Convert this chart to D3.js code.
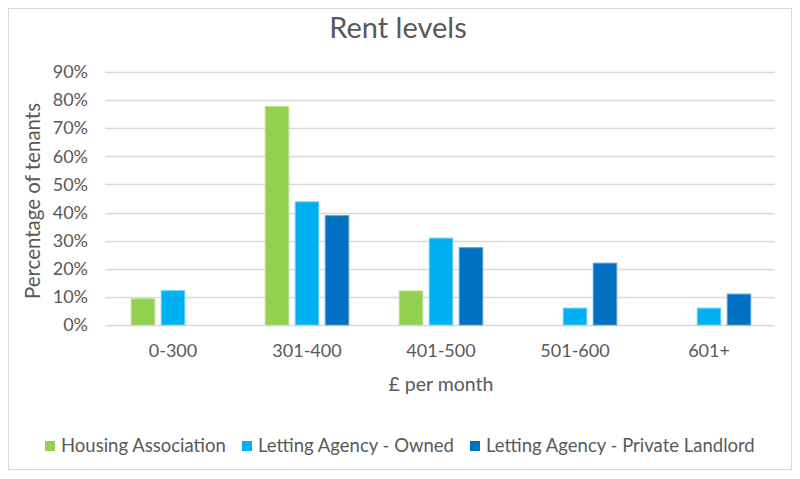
<!DOCTYPE html>
<html><head><meta charset="utf-8">
<script src="https://cdn.jsdelivr.net/npm/d3@7"></script>
<style>body{margin:0;background:#fff;}svg{display:block;font-family:Lato,"Open Sans",sans-serif;}</style>
</head><body><svg id="c" width="800" height="479"></svg>
<script>
const categories = ["0-300","301-400","401-500","501-600","601+"];
const seriesNames = ["Housing Association","Letting Agency - Owned","Letting Agency - Private Landlord"];
const housingAssociation = [9.3, 77.7, 12.1, 0, 0];
const lettingOwned = [12.2, 43.8, 30.9, 6.0, 6.0];
const lettingPrivate = [0, 38.9, 27.5, 22.0, 11.0];
const yTicks = [0,10,20,30,40,50,60,70,80,90];
const colors = ["#92D050","#00B0F0","#0070C0"];
const strokes = ["#b5e08a","#66d0f6","#5aa0d8"];

(function(){
const svg = d3.select("#c");
svg.append("rect").attr("x",8.5).attr("y",8.5).attr("width",783).attr("height",461)
  .attr("fill","#fff").attr("stroke","#d9d9d9");

const pLeft=106, pRight=776, pTop=72, pBottom=325;
const x = d3.scaleBand().domain(categories).range([pLeft,pRight]);
const y = d3.scaleLinear().domain([0,90]).range([pBottom,pTop]);
const series = [housingAssociation, lettingOwned, lettingPrivate];
const barW = 23.5, gap = 6.5;
const groupW = 3*barW+2*gap;
const x1 = d3.scaleBand().domain([0,1,2]).range([0, groupW]).paddingInner(gap/(barW+gap));

svg.append("g").selectAll("line").data(yTicks).join("line")
  .attr("x1",pLeft-1).attr("x2",pRight-1).attr("y1",d=>Math.round(y(d))+0.5).attr("y2",d=>Math.round(y(d))+0.5)
  .attr("stroke","#d9d9d9").attr("stroke-width",1.3);

const yAxis = d3.axisLeft(y).tickValues(yTicks).tickFormat(d=>d+"%").tickSize(0).tickPadding(0);
const ya = svg.append("g").attr("transform",`translate(${pLeft-18},0)`).call(yAxis);
ya.select(".domain").remove();
ya.selectAll("text").attr("font-size",18).attr("fill","#595959").attr("font-family","Lato,sans-serif");

series.forEach((vals,si)=>{
  svg.append("g").selectAll("rect").data(categories.map((c,i)=>({c,v:vals[i]})).filter(d=>d.v>0)).join("rect")
    .attr("x",d=>x(d.c)+x.bandwidth()/2-groupW/2+x1(si))
    .attr("width",x1.bandwidth())
    .attr("y",d=>y(d.v)).attr("height",d=>y(0)-y(d.v))
    .attr("fill",colors[si]).attr("stroke",strokes[si]).attr("stroke-width",1);
});

const xAxis = d3.axisBottom(x).tickSize(0).tickPadding(0);
const xa = svg.append("g").attr("transform",`translate(0,${pBottom+26})`).call(xAxis);
xa.select(".domain").remove();
xa.selectAll("text").attr("font-size",18).attr("fill","#595959").attr("font-family","Lato,sans-serif").attr("dy","0.35em");

svg.append("text").attr("x",398).attr("y",38).attr("text-anchor","middle").attr("font-size",29)
  .attr("fill","#595959").text("Rent levels");
svg.append("text").attr("x",(pLeft+pRight)/2).attr("y",391).attr("text-anchor","middle").attr("font-size",19.5)
  .attr("fill","#595959").text("£ per month");
svg.append("text").attr("transform","translate(40,201) rotate(-90)").attr("text-anchor","middle").attr("font-size",20.5)
  .attr("fill","#595959").text("Percentage of tenants");

const legX = [45,242,470];
const lg = svg.append("g");
seriesNames.forEach((n,i)=>{
  lg.append("rect").attr("x",legX[i]).attr("y",441).attr("width",10).attr("height",10).attr("fill",colors[i]);
  lg.append("text").attr("x",legX[i]+16).attr("y",452).attr("font-size",18.5).attr("fill","#595959").text(n);
});
})();
</script></body></html>
